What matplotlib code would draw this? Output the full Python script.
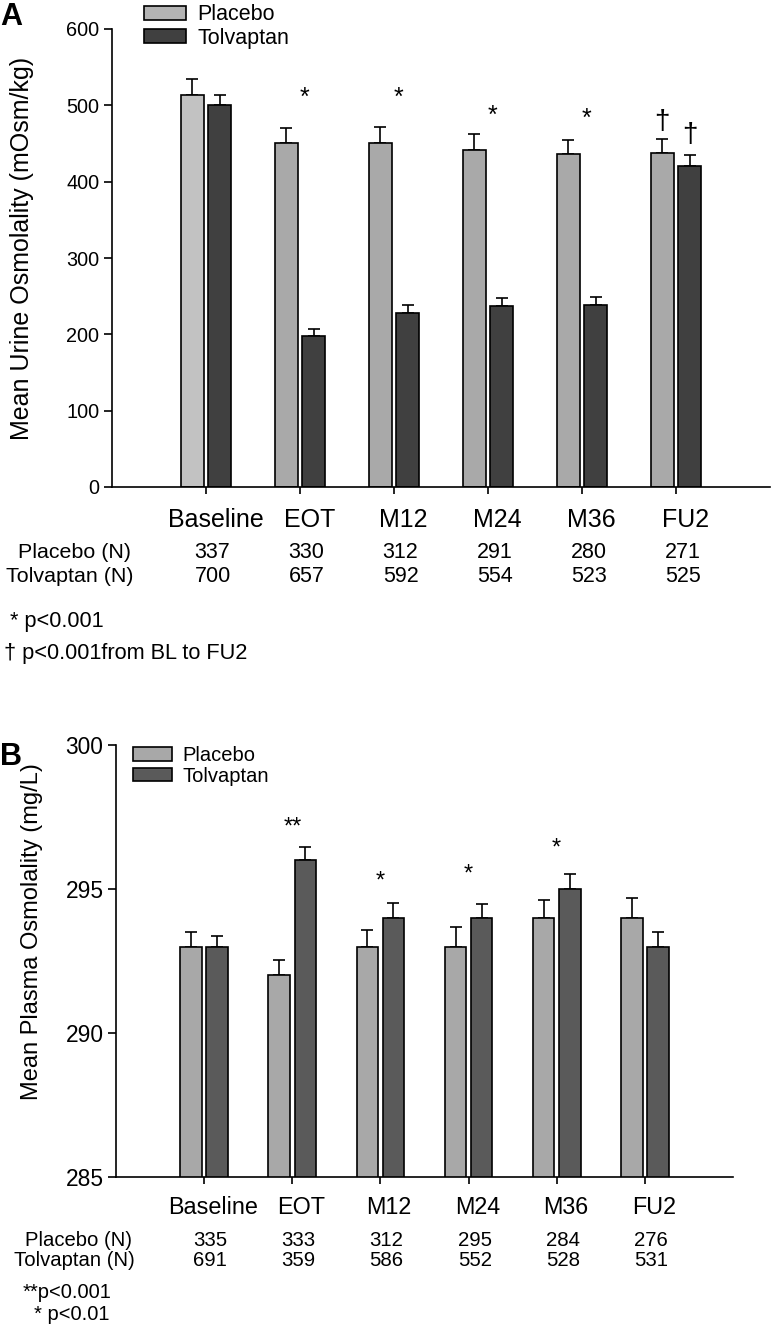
import numpy as np
import matplotlib.pyplot as plt
from matplotlib import transforms
from matplotlib.patches import Patch

plt.rcParams['font.family'] = ['Liberation Sans', 'DejaVu Sans']

W, H = 773, 1329

visits = ["Baseline", "EOT", "M12", "M24", "M36", "FU2"]

# panel A: urine osmolality (mOsm/kg)
urine_placebo = [514, 450, 450, 442, 436, 437]
urine_placebo_se = [20, 20, 22, 20, 19, 19]
urine_tolvaptan = [500, 198, 228, 237, 239, 421]
urine_tolvaptan_se = [13, 9, 10, 10, 10, 14]
urine_n_placebo = [337, 330, 312, 291, 280, 271]
urine_n_tolvaptan = [700, 657, 592, 554, 523, 525]
urine_sig = ["", "*", "*", "*", "*", ""]
urine_sig_y = [0, 510, 510, 486, 482, 0]
urine_dagger_y = [478, 461]

# panel B: plasma osmolality (mg/L)
plasma_placebo = [293, 292, 293, 293, 294, 294]
plasma_placebo_se = [0.5, 0.53, 0.58, 0.67, 0.63, 0.68]
plasma_tolvaptan = [293, 296, 294, 294, 295, 293]
plasma_tolvaptan_se = [0.37, 0.45, 0.5, 0.48, 0.52, 0.5]
plasma_n_placebo = [335, 333, 312, 295, 284, 276]
plasma_n_tolvaptan = [691, 359, 586, 552, 528, 531]
plasma_sig = ["", "**", "*", "*", "*", ""]
plasma_sig_y = [0, 297.15, 295.25, 295.5, 296.4, 0]


def fx(x):
    return x / W


def fy(y):
    return 1 - y / H


fig = plt.figure(figsize=(W / 100, H / 100), dpi=100)

x = np.arange(len(visits))
bw = 0.245
off = 0.148


def draw_panel(ax, pl, pl_se, tv, tv_se, pl_col, tv_col, tick_fs):
    ax.bar(x - off, pl, bw, color=pl_col, edgecolor='black', linewidth=1.2, zorder=2)
    ax.bar(x + off, tv, bw, color=tv_col, edgecolor='black', linewidth=1.2, zorder=2)
    z = np.zeros(len(x))
    ax.errorbar(x - off, pl, yerr=[z, pl_se], fmt='none', ecolor='black',
                elinewidth=1.2, capsize=4.5, capthick=1.2, zorder=1)
    ax.errorbar(x + off, tv, yerr=[z, tv_se], fmt='none', ecolor='black',
                elinewidth=1.2, capsize=4.5, capthick=1.2, zorder=1)
    ax.spines['top'].set_visible(False)
    ax.spines['right'].set_visible(False)
    ax.spines['left'].set_linewidth(1.2)
    ax.spines['bottom'].set_linewidth(1.2)
    ax.set_xlim(-1, 6)
    ax.set_xticks(x)
    ax.set_xticklabels([])
    ax.tick_params(axis='x', length=5, width=1.2, direction='out')
    ax.tick_params(axis='y', length=6, width=1.2, direction='out', labelsize=tick_fs, pad=3)


def table_rows(ax, n_pl, n_tv, y_cat, y_pl, y_tv, cat_fs, num_fs):
    tr = transforms.blended_transform_factory(ax.transData, fig.transFigure)
    for i, v in enumerate(visits):
        ax.text(i + 0.1, fy(y_cat), v, transform=tr, ha='center', va='center', fontsize=cat_fs)
        ax.text(i + 0.07, fy(y_pl), str(n_pl[i]), transform=tr, ha='center', va='center', fontsize=num_fs)
        ax.text(i + 0.07, fy(y_tv), str(n_tv[i]), transform=tr, ha='center', va='center', fontsize=num_fs)


# ---------- panel A ----------
axA = fig.add_axes([fx(112), fy(487), fx(770) - fx(112), fy(29) - fy(487)])
pl_cols_a = ['#c2c2c2'] + ['#a9a9a9'] * 5
draw_panel(axA, urine_placebo, urine_placebo_se, urine_tolvaptan, urine_tolvaptan_se,
           pl_cols_a, '#404040', 14.3)
axA.set_ylim(0, 600)
axA.set_yticks(range(0, 601, 100))
for i, s in enumerate(urine_sig):
    if s:
        axA.text(i + 0.05, urine_sig_y[i], s, ha='center', va='center', fontsize=18)
axA.text(5 - off, urine_dagger_y[0], "†", ha='center', va='center', fontsize=20)
axA.text(5 + off, urine_dagger_y[1], "†", ha='center', va='center', fontsize=20)

hA = [Patch(facecolor='#b4b4b4', edgecolor='black', linewidth=1.2),
      Patch(facecolor='#404040', edgecolor='black', linewidth=1.2)]
fig.legend(hA, ["Placebo", "Tolvaptan"], loc='upper left',
           bbox_to_anchor=(fx(140), fy(0)), frameon=False, fontsize=15.5,
           handlelength=1.95, handleheight=0.6, handletextpad=0.5,
           labelspacing=0.12, borderpad=0.2, borderaxespad=0)

fig.text(fx(22), fy(248), "Mean Urine Osmolality (mOsm/kg)", rotation=90,
         ha='center', va='center', fontsize=18)
fig.text(fx(0), fy(17), "A", fontsize=22, fontweight='bold', ha='left', va='center')

table_rows(axA, urine_n_placebo, urine_n_tolvaptan, 520, 553, 576, 18, 15.5)
fig.text(fx(131), fy(553), "Placebo (N)", ha='right', va='center', fontsize=15.4)
fig.text(fx(134), fy(576), "Tolvaptan (N)", ha='right', va='center', fontsize=15.4)
fig.text(fx(10), fy(622), "* p<0.001", ha='left', va='center', fontsize=15.7)
fig.text(fx(4), fy(654), "† p<0.001from BL to FU2", ha='left', va='center', fontsize=15.7)

# ---------- panel B ----------
axB = fig.add_axes([fx(116), fy(1177), fx(733) - fx(116), fy(745) - fy(1177)])
draw_panel(axB, plasma_placebo, plasma_placebo_se, plasma_tolvaptan, plasma_tolvaptan_se,
           '#a8a8a8', '#5a5a5a', 16.4)
axB.set_ylim(285, 300)
axB.set_yticks([285, 290, 295, 300])
for i, s in enumerate(plasma_sig):
    if s:
        axB.text(i, plasma_sig_y[i], s, ha='center', va='center', fontsize=17)

hB = [Patch(facecolor='#a8a8a8', edgecolor='black', linewidth=1.2),
      Patch(facecolor='#5a5a5a', edgecolor='black', linewidth=1.2)]
fig.legend(hB, ["Placebo", "Tolvaptan"], loc='upper left',
           bbox_to_anchor=(fx(129), fy(742)), frameon=False, fontsize=14.5,
           handlelength=1.95, handleheight=0.65, handletextpad=0.5,
           labelspacing=0.08, borderpad=0.2, borderaxespad=0)

fig.text(fx(32), fy(932), "Mean Plasma Osmolality (mg/L)", rotation=90,
         ha='center', va='center', fontsize=17)
fig.text(fx(0), fy(757), "B", fontsize=22, fontweight='bold', ha='left', va='center')

table_rows(axB, plasma_n_placebo, plasma_n_tolvaptan, 1208, 1240, 1260, 16.8, 14.7)
fig.text(fx(132), fy(1240), "Placebo (N)", ha='right', va='center', fontsize=14.6)
fig.text(fx(135), fy(1260), "Tolvaptan (N)", ha='right', va='center', fontsize=14.6)
fig.text(fx(112), fy(1293), "**p<0.001", ha='right', va='center', fontsize=14.5)
fig.text(fx(110), fy(1314), "* p<0.01", ha='right', va='center', fontsize=14.5)

fig.savefig("out.png", dpi=100)
